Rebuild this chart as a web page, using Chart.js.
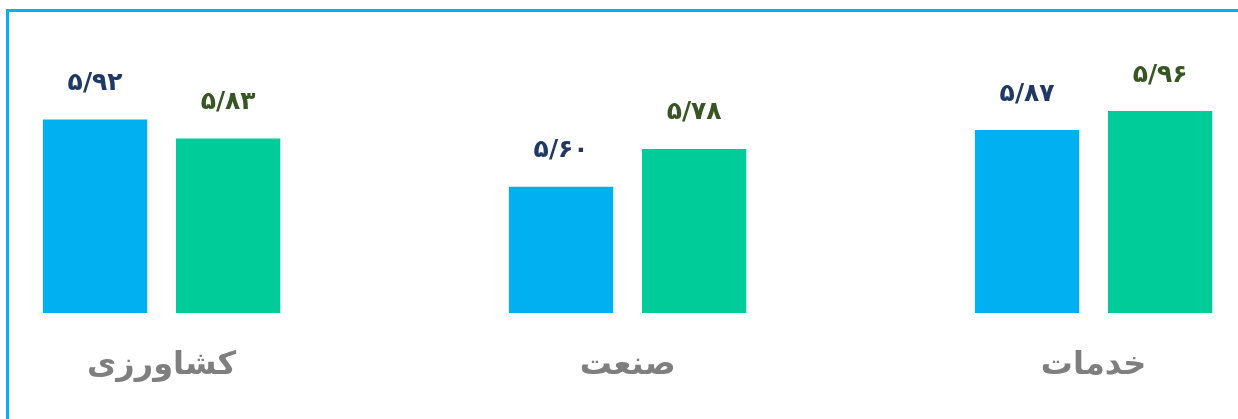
<!DOCTYPE html>
<html>
<head>
<meta charset="utf-8">
<script src="https://cdn.jsdelivr.net/npm/chart.js@4/dist/chart.umd.min.js"></script>
<style>
  html, body { margin: 0; padding: 0; background: #fff; overflow: hidden; }
  #wrap { position: relative; width: 1238px; height: 419px; }
  #frame { position: absolute; left: 6px; top: 9px; width: 1400px; height: 600px;
           border: 3px solid #00b0f0; box-sizing: border-box; }
  #chart { position: absolute; left: 0; top: 0; }
</style>
</head>
<body>
<div id="wrap">
  <div id="frame"></div>
  <canvas id="chart" width="1238" height="419"></canvas>
</div>
<script>
const sectors = ["کشاورزی", "صنعت", "خدمات"]; // categories, left to right
const series1 = [5.92, 5.60, 5.87]; // blue bars
const series2 = [5.83, 5.78, 5.96]; // green bars

// value labels in Persian digits, e.g. 5.92 -> ۵/۹۲
const faDigits = "۰۱۲۳۴۵۶۷۸۹";
function toFa(v) {
  return v.toFixed(2).replace(".", "/").replace(/[0-9]/g, d => faDigits[d]);
}

// draws the number above each bar
const valueLabels = {
  id: "valueLabels",
  afterDatasetsDraw(chart) {
    const ctx = chart.ctx;
    ctx.save();
    ctx.font = "bold 25px 'DejaVu Sans'";
    ctx.textAlign = "center";
    ctx.textBaseline = "middle";
    chart.data.datasets.forEach((ds, i) => {
      const meta = chart.getDatasetMeta(i);
      ctx.fillStyle = ds.labelColor;
      meta.data.forEach((bar, j) => {
        ctx.fillText(toFa(ds.data[j]), bar.x, bar.y - 36);
      });
    });
    ctx.restore();
  }
};

new Chart(document.getElementById("chart"), {
  type: "bar",
  data: {
    labels: sectors,
    datasets: [
      { data: series1, backgroundColor: "#00b0f0", labelColor: "#1f3864", base: 5, clip: false },
      { data: series2, backgroundColor: "#00cc99", labelColor: "#375623", base: 5, clip: false }
    ]
  },
  options: {
    responsive: false,
    animation: false,
    events: [],
    barPercentage: 0.784,
    categoryPercentage: 0.571,
    layout: { padding: { left: 161.6, right: 144.4, top: 102.7, bottom: 0 } },
    plugins: { legend: { display: false }, tooltip: { enabled: false } },
    scales: {
      x: {
        offset: false,
        grid: { display: false, drawTicks: false },
        border: { display: false },
        ticks: {
          color: "#7f7f7f",
          padding: 37,
          font: { family: "'DejaVu Sans'", size: 32, weight: "bold", lineHeight: 1.0 }
        }
      },
      y: {
        display: false,
        min: 5,
        max: 6
      }
    }
  },
  plugins: [valueLabels]
});
</script>
</body>
</html>
